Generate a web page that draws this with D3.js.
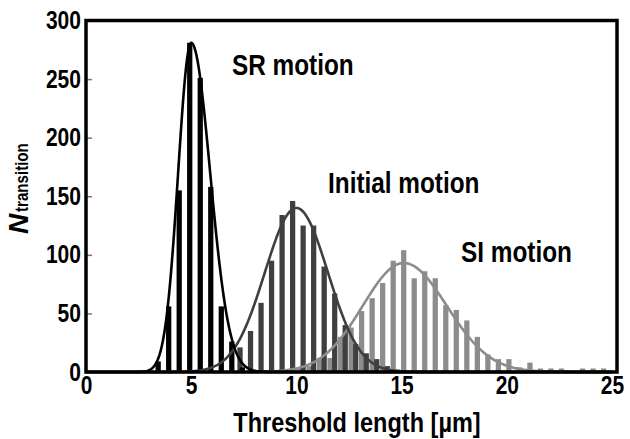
<!DOCTYPE html>
<html>
<head>
<meta charset="utf-8"/>
<script src="https://cdn.jsdelivr.net/npm/d3@7"></script>
<style>
body { margin: 0; background: #fff; }
text { font-family: "Liberation Sans", Arial, sans-serif; font-weight: bold; fill: #000; }
</style>
</head>
<body>
<svg id="chart" width="630" height="439"></svg>
<script>

// histogram bins (bar centre, µm) and counts
var srX   = [3.43, 3.93, 4.43, 4.93, 5.43, 5.93, 6.43, 6.93, 7.43, 7.93];
var srN   = [9, 56, 155, 281, 251, 158, 56, 26, 4, 2];

var initX = [7.32, 7.82, 8.32, 8.82, 9.32, 9.82, 10.32, 10.82, 11.32, 11.82, 12.32, 12.82, 13.32, 13.82, 14.32, 14.82];
var initN = [21, 35, 59, 95, 134, 146, 125, 125, 90, 67, 40, 24, 16, 11, 5, 2];

var siX   = [10.1, 10.6, 11.1, 11.6, 12.1, 12.6, 13.1, 13.6, 14.1, 14.6, 15.1, 15.6, 16.1, 16.6, 17.1, 17.6,
             18.1, 18.6, 19.1, 19.6, 20.1, 20.6, 21.1, 21.6, 22.1, 22.6, 23.6, 24.1, 24.6];
var siN   = [3, 5, 12, 12, 30, 38, 52, 63, 76, 95, 104, 80, 86, 80, 57, 53,
             44, 30, 15, 11, 11, 4, 8, 3, 3, 3, 3, 3, 3];

// fitted curves: [amplitude, peak position, sigma left, sigma right]
var srFit   = [281, 5.0, 0.62, 0.9];
var initFit = [140, 10.0, 1.5, 1.5];
var siFit   = [93, 15.1, 1.95, 2.05];

var xTicks = [0, 5, 10, 15, 20, 25];
var yTicks = [0, 50, 100, 150, 200, 250, 300];

var series = [
  {name: "SI motion",      xs: siX,   ns: siN,   fit: siFit,   color: "#8c8c8c"},
  {name: "Initial motion", xs: initX, ns: initN, fit: initFit, color: "#3f3f3f"},
  {name: "SR motion",      xs: srX,   ns: srN,   fit: srFit,   color: "#000000"}
];

var svg = d3.select("#chart");

var x = d3.scaleLinear().domain([0, 25]).range([86, 612]);
var y = d3.scaleLinear().domain([0, 300]).range([372, 20.5]);
var squeeze = 0.84;   // narrow bold look

function fitValue(f, v) {
  var s = v < f[1] ? f[2] : f[3];
  return f[0] * Math.exp(-(v - f[1]) * (v - f[1]) / (2 * s * s));
}

// bars
var bw = x(0.25) - x(0);
series.forEach(function(s) {
  svg.append("g").selectAll("rect")
    .data(s.xs.map(function(v, i) { return [v, s.ns[i]]; }))
    .enter().append("rect")
    .attr("x", function(d) { return x(d[0]) - bw / 2; })
    .attr("y", function(d) { return y(d[1]); })
    .attr("width", bw)
    .attr("height", function(d) { return y(0) - y(d[1]); })
    .attr("fill", s.color);
});

// fitted curves
var grid = d3.range(0, 25.001, 0.05);
var line = d3.line()
  .x(function(d) { return x(d); });
series.forEach(function(s) {
  line.y(function(d) { return y(fitValue(s.fit, d)); });
  svg.append("path")
    .datum(grid)
    .attr("fill", "none")
    .attr("stroke", s.color)
    .attr("stroke-width", 2.6)
    .attr("d", line);
});

// y axis (ticks pointing inward)
var yAxis = svg.append("g")
  .attr("transform", "translate(86,0)")
  .call(d3.axisLeft(y).tickValues(yTicks).tickSizeInner(-6).tickSizeOuter(0).tickPadding(6));
yAxis.select(".domain").remove();
yAxis.selectAll(".tick line").attr("stroke", "#777").attr("stroke-width", 1.5);
yAxis.selectAll(".tick text")
  .style("font-size", "25px")
  .attr("transform", "scale(" + squeeze + ",1)");

// x axis
var xAxis = svg.append("g")
  .attr("transform", "translate(0,372)")
  .call(d3.axisBottom(x).tickValues(xTicks).tickSize(0).tickPadding(4));
xAxis.select(".domain").remove();
xAxis.selectAll(".tick text")
  .style("font-size", "25px")
  .attr("transform", "scale(" + squeeze + ",1)")
  .attr("x", 0);

// frame
svg.append("rect")
  .attr("x", x(0)).attr("y", y(300))
  .attr("width", 617 - x(0)).attr("height", y(0) - y(300))
  .attr("fill", "none")
  .attr("stroke", "#000")
  .attr("stroke-width", 3.5);

function label(txt, px, py, size, anchor) {
  return svg.append("text")
    .attr("transform", "translate(" + px + "," + py + ") scale(" + squeeze + ",1)")
    .attr("text-anchor", anchor || "start")
    .style("font-size", size + "px")
    .text(txt);
}

// series annotations
label("SR motion", 232, 75, 29);
label("Initial motion", 328, 193, 29);
label("SI motion", 461, 262, 29);

// axis titles
label("Threshold length [\u00b5m]", 357, 432, 28, "middle");

var yt = svg.append("g").attr("transform", "translate(28,234) rotate(-90)");
yt.append("text")
  .style("font-size", "28px")
  .style("font-style", "italic")
  .text("N");
yt.append("text")
  .attr("transform", "translate(22,0) scale(" + squeeze + ",1)")
  .style("font-size", "18px")
  .text("transition");

</script>
</body>
</html>
